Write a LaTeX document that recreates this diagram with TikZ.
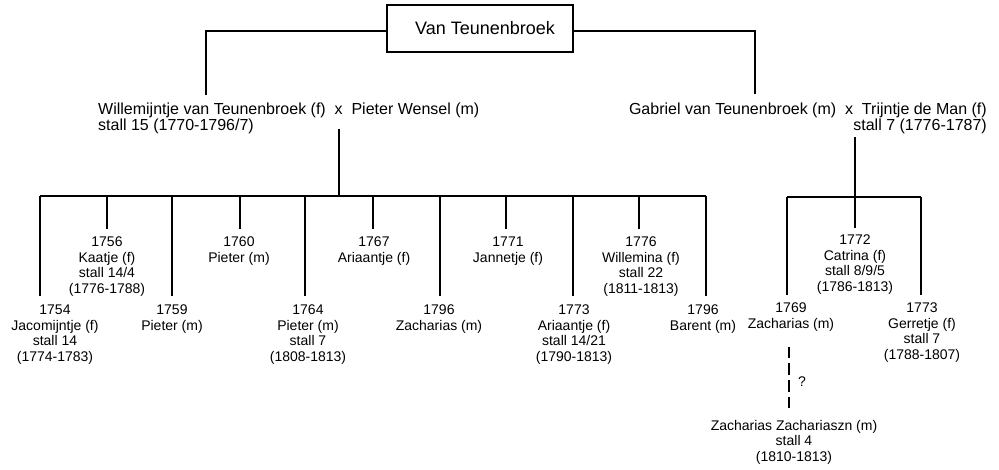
\documentclass[tikz,border=0pt]{standalone}
\usepackage{fontspec}
\setmainfont{Liberation Sans}
\begin{document}
\begin{tikzpicture}[x=1pt, y=-1pt,
  conn/.style={line width=1.2pt, black},
  kid/.style={inner sep=0pt, anchor=north, align=center, font=\fontsize{14}{15.5}\selectfont},
  parent/.style={inner sep=0pt, font=\fontsize{16}{16}\selectfont},
  rootbox/.style={draw, line width=1.2pt, minimum width=186pt, minimum height=47pt, inner sep=0pt, font=\fontsize{18}{20}\selectfont}]
\useasboundingbox (0,0) rectangle (999,470);

% family root
\node[rootbox] (title) at (480,28.5) {\hspace*{10pt}Van Teunenbroek};
\coordinate (ybar) at (0,31);
\coordinate (wtop) at (206,95);
\coordinate (gtop) at (755,94);
\draw[conn] (title.west |- ybar) -| (wtop);
\draw[conn] (title.east |- ybar) -| (gtop);

% the two couples
\node[parent, anchor=north west, align=left] (wp) at (98,102.5)
  {Willemijntje van Teunenbroek (f)~~x~~Pieter Wensel (m)\\stall 15 (1770-1796/7)};
\node[parent, anchor=north east, align=right] (gp) at (987,102.5)
  {Gabriel van Teunenbroek (m)~~x~~Trijntje de Man (f)\\stall 7 (1776-1787)};

% children of Willemijntje and Pieter
\coordinate (wx) at (339,129);
\coordinate (wbar) at (339,196);
\draw[conn] (wx) -- (wbar);
\foreach \n/\x in {1754/40,1756/107,1759/172,1760/240,1764/305,1767/373,1796z/440,1771/506,1773a/573,1776/639,1796b/706}
  \coordinate (j\n) at (\x,196);
\draw[conn] (j1754) -- (j1796b);

\node[kid] (k1754) at (55,305) {1754\\Jacomijntje (f)\\stall 14\\(1774-1783)};
\node[kid] (k1756) at (107,237) {1756\\Kaatje (f)\\stall 14/4\\(1776-1788)};
\node[kid] (k1759) at (172,305) {1759\\Pieter (m)};
\node[kid] (k1760) at (239,237) {1760\\Pieter (m)};
\node[kid] (k1764) at (308,305) {1764\\Pieter (m)\\stall 7\\(1808-1813)};
\node[kid] (k1767) at (374,237) {1767\\Ariaantje (f)};
\node[kid] (k1796z) at (439,305) {1796\\Zacharias (m)};
\node[kid] (k1771) at (508,237) {1771\\Jannetje (f)};
\node[kid] (k1773a) at (574,305) {1773\\Ariaantje (f)\\stall 14/21\\(1790-1813)};
\node[kid] (k1776) at (641,237) {1776\\Willemina (f)\\stall 22\\(1811-1813)};
\node[kid] (k1796b) at (703,305) {1796\\Barent (m)};

\foreach \n in {1754,1759,1764,1796z,1773a,1796b}
  \draw[conn, shorten >=9pt] (j\n) -- (j\n |- k\n.north);
\foreach \n in {1756,1760,1767,1771,1776}
  \draw[conn, shorten >=8pt] (j\n) -- (j\n |- k\n.north);

% children of Gabriel and Trijntje
\coordinate (gx) at (855,137);
\coordinate (gbar) at (855,197);
\draw[conn] (gx) -- (gbar);
\coordinate (j1769) at (787,197);
\coordinate (j1772) at (855,197);
\coordinate (j1773g) at (921,197);
\draw[conn] (j1769) -- (j1773g);

\node[kid] (k1769) at (791,303) {1769\\Zacharias (m)};
\node[kid] (k1772) at (855,235) {1772\\Catrina (f)\\stall 8/9/5\\(1786-1813)};
\node[kid] (k1773g) at (922,303) {1773\\Gerretje (f)\\stall 7\\(1788-1807)};

\draw[conn, shorten >=8pt] (j1769) -- (j1769 |- k1769.north);
\draw[conn, shorten >=7pt] (j1772) -- (j1772 |- k1772.north);
\draw[conn, shorten >=8pt] (j1773g) -- (j1773g |- k1773g.north);

% uncertain descent
\node[kid] (zz) at (794,420) {Zacharias Zachariaszn (m)\\stall 4\\(1810-1813)};
\coordinate (zd) at (789,347);
\draw[conn, dash pattern=on 11.5pt off 5pt, shorten >=10pt] (zd) -- (zd |- zz.north);
\node[inner sep=0pt, font=\fontsize{14}{15.5}\selectfont] (q) at (802,382) {?};
\end{tikzpicture}
\end{document}
